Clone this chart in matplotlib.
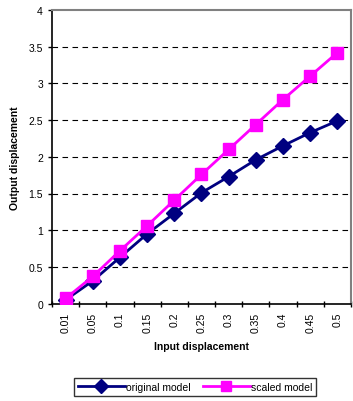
import matplotlib.pyplot as plt
import numpy as np

plt.rcParams['font.family'] = ['Liberation Sans', 'DejaVu Sans']

inputs = ["0.01", "0.05", "0.1", "0.15", "0.2", "0.25", "0.3", "0.35", "0.4", "0.45", "0.5"]
original = [0.05, 0.31, 0.63, 0.95, 1.23, 1.51, 1.73, 1.96, 2.15, 2.33, 2.49]
scaled = [0.07, 0.37, 0.72, 1.06, 1.41, 1.76, 2.10, 2.44, 2.78, 3.10, 3.42]

fig = plt.figure(figsize=(3.53, 4.02), dpi=100)
ax = fig.add_axes([52 / 353, 1 - 304.6 / 402, 299 / 353, 293.6 / 402])

x = np.arange(len(inputs))
ax.plot(x, original, color="#000080", marker="D", markersize=8.5, lw=2,
        label="original model", zorder=3)
ax.plot(x, scaled, color="#FF00FF", marker="s", markersize=8.5, lw=2,
        label="scaled model", zorder=4)

ax.set_xlim(-0.5, len(inputs) - 0.5)
ax.set_ylim(0, 4)
ax.set_yticks(np.arange(0, 4.01, 0.5))
ax.set_yticklabels(["0", "0.5", "1", "1.5", "2", "2.5", "3", "3.5", "4"])
# dashed horizontal grid at every 0.5 step
for yv in np.arange(0.5, 4, 0.5):
    ax.axhline(yv, color="black", lw=0.8, dashes=(5, 4), zorder=1)

ax.set_xticks(x)
ax.set_xticklabels(inputs, rotation=90)
ax.set_xticks(np.arange(-0.5, len(inputs)), minor=True)
ax.tick_params(axis="x", which="major", length=0, labelsize=7.5, pad=6)
ax.tick_params(axis="x", which="minor", length=4, width=1, direction="inout")
ax.tick_params(axis="y", length=3, width=1, labelsize=7.5)

for side in ("left", "bottom"):
    ax.spines[side].set_color("black")
    ax.spines[side].set_linewidth(1.2)
for side in ("top", "right"):
    ax.spines[side].set_color("#808080")
    ax.spines[side].set_linewidth(1.5)

ax.set_xlabel("Input displacement", fontsize=7.5, fontweight="bold", labelpad=6)
ax.set_ylabel("Output displacement", fontsize=7.5, fontweight="bold", labelpad=6)

leg = fig.legend(loc="center", bbox_to_anchor=(195 / 353, 1 - 388 / 402), ncol=2,
                 fontsize=7.5, frameon=True, fancybox=False, edgecolor="black",
                 handlelength=4.5, columnspacing=1.2, handletextpad=0.1,
                 borderpad=0.4, markerscale=0.8)
leg.get_frame().set_linewidth(1)

fig.savefig("out.png", dpi=100)
